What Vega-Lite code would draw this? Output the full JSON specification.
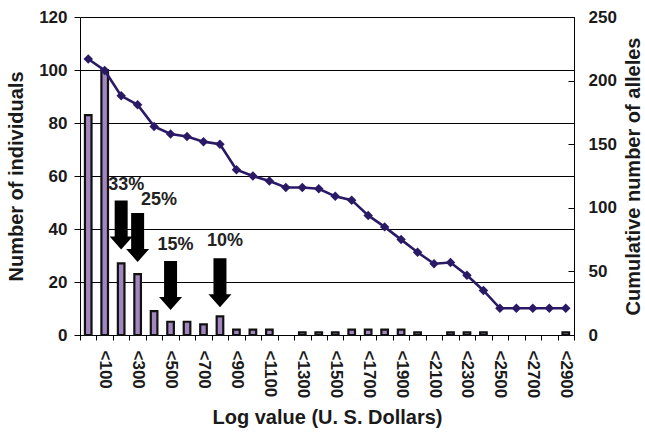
{
  "$schema": "https://vega.github.io/schema/vega-lite/v6.json",
  "width": 494,
  "height": 318,
  "autosize": {"type": "none"},
  "padding": {"left": 80, "top": 17, "right": 71, "bottom": 99},
  "background": "white",
  "config": {
    "font": "Liberation Sans",
    "view": {"stroke": null},
    "axis": {
      "labelFont": "Liberation Sans",
      "titleFont": "Liberation Sans",
      "labelFontWeight": "bold",
      "titleFontWeight": "bold",
      "labelColor": "#1a1a1a",
      "titleColor": "#1a1a1a",
      "domainColor": "#000",
      "tickColor": "#000",
      "labelFontSize": 17,
      "titleFontSize": 20
    }
  },
  "datasets": {
    "bins": [
      {"range": "0", "individuals": 83, "alleles": 217},
      {"range": "<100", "individuals": 100, "alleles": 208},
      {"range": "<200", "individuals": 27, "alleles": 188},
      {"range": "<300", "individuals": 23, "alleles": 181},
      {"range": "<400", "individuals": 9, "alleles": 164},
      {"range": "<500", "individuals": 5, "alleles": 158},
      {"range": "<600", "individuals": 5, "alleles": 156},
      {"range": "<700", "individuals": 4, "alleles": 152},
      {"range": "<800", "individuals": 7, "alleles": 150},
      {"range": "<900", "individuals": 2, "alleles": 130},
      {"range": "<1000", "individuals": 2, "alleles": 125},
      {"range": "<1100", "individuals": 2, "alleles": 121},
      {"range": "<1200", "individuals": 0, "alleles": 116},
      {"range": "<1300", "individuals": 1, "alleles": 116},
      {"range": "<1400", "individuals": 1, "alleles": 115},
      {"range": "<1500", "individuals": 1, "alleles": 109},
      {"range": "<1600", "individuals": 2, "alleles": 106},
      {"range": "<1700", "individuals": 2, "alleles": 94},
      {"range": "<1800", "individuals": 2, "alleles": 85},
      {"range": "<1900", "individuals": 2, "alleles": 75},
      {"range": "<2000", "individuals": 1, "alleles": 65},
      {"range": "<2100", "individuals": 0, "alleles": 56},
      {"range": "<2200", "individuals": 1, "alleles": 57},
      {"range": "<2300", "individuals": 1, "alleles": 47},
      {"range": "<2400", "individuals": 1, "alleles": 35},
      {"range": "<2500", "individuals": 0, "alleles": 21},
      {"range": "<2600", "individuals": 0, "alleles": 21},
      {"range": "<2700", "individuals": 0, "alleles": 21},
      {"range": "<2800", "individuals": 0, "alleles": 21},
      {"range": "<2900", "individuals": 1, "alleles": 21}
    ],
    "arrows": [
      {"range": "<200", "y": 41.5},
      {"range": "<300", "y": 36.8},
      {"range": "<500", "y": 18.7},
      {"range": "<800", "y": 19.7}
    ],
    "labels": [
      {"range": "<200", "label": "33%", "y": 56.6},
      {"range": "<400", "label": "25%", "y": 50.9},
      {"range": "<500", "label": "15%", "y": 34},
      {"range": "<800", "label": "10%", "y": 35.3}
    ]
  },
  "encoding": {
    "x": {
      "field": "range",
      "type": "ordinal",
      "sort": null,
      "scale": {
        "domain": ["0", "<100", "<200", "<300", "<400", "<500", "<600", "<700", "<800", "<900", "<1000", "<1100", "<1200", "<1300", "<1400", "<1500", "<1600", "<1700", "<1800", "<1900", "<2000", "<2100", "<2200", "<2300", "<2400", "<2500", "<2600", "<2700", "<2800", "<2900"],
        "paddingInner": 0,
        "paddingOuter": 0
      },
      "axis": {
        "title": "Log value (U. S. Dollars)",
        "labelAngle": 90,
        "labelExpr": "toNumber(substring(datum.value, 1)) % 200 == 100 ? datum.value : ''",
        "tickBand": "extent",
        "tickSize": 5,
        "labelPadding": 10,
        "titlePadding": 10,
        "grid": false
      }
    }
  },
  "layer": [
    {
      "layer": [
        {
          "data": {"name": "bins"},
          "transform": [{"filter": "datum.individuals > 0"}],
          "mark": {"type": "bar", "width": {"band": 0.4}, "fill": "#A286C0", "stroke": "#111", "strokeWidth": 2.2},
          "encoding": {
            "y": {
              "field": "individuals",
              "type": "quantitative",
              "scale": {"domain": [0, 120], "nice": false},
              "axis": {
                "title": "Number of individuals",
                "values": [0, 20, 40, 60, 80, 100, 120],
                "grid": true,
                "gridColor": "#000",
                "gridWidth": 1,
                "tickSize": 6,
                "labelPadding": 7,
                "titlePadding": 12
              }
            }
          }
        },
        {
          "data": {"name": "arrows"},
          "mark": {"type": "point", "shape": "M-0.265,-1L0.265,-1L0.265,0.47L0.47,0.47L0,1L-0.47,0.47L-0.265,0.47Z", "size": 2401, "filled": true, "color": "#000", "opacity": 1, "strokeWidth": 0},
          "encoding": {
            "y": {"field": "y", "type": "quantitative", "scale": {"domain": [0, 120], "nice": false}}
          }
        },
        {
          "data": {"name": "labels"},
          "mark": {"type": "text", "fontSize": 18, "fontWeight": "bold", "dx": 5, "color": "#222", "font": "Liberation Sans"},
          "encoding": {
            "y": {"field": "y", "type": "quantitative", "scale": {"domain": [0, 120], "nice": false}},
            "text": {"field": "label"}
          }
        }
      ]
    },
    {
      "data": {"name": "bins"},
      "mark": {"type": "line", "color": "#2A1A66", "strokeWidth": 2.6, "point": {"shape": "diamond", "size": 90, "filled": true, "color": "#2A1A66"}},
      "encoding": {
        "y": {
          "field": "alleles",
          "type": "quantitative",
          "scale": {"domain": [0, 250], "nice": false},
          "axis": {
            "orient": "right",
            "title": "Cumulative number of alleles",
            "values": [0, 50, 100, 150, 200, 250],
            "grid": false,
            "tickSize": -6,
            "labelPadding": 20,
            "titleAngle": -90,
            "titleBaseline": "top",
            "titlePadding": 7
          }
        }
      }
    }
  ],
  "resolve": {"scale": {"y": "independent"}}
}
